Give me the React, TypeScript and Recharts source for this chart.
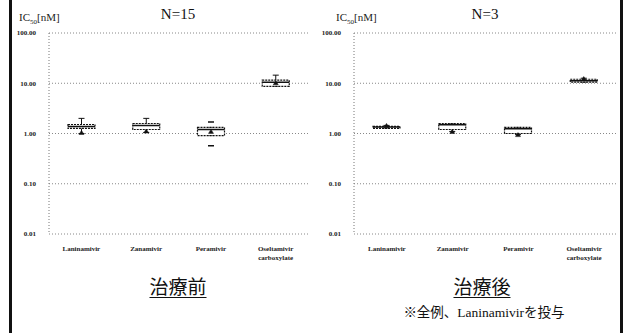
import React from "react";
import { ComposedChart, Bar, XAxis, YAxis, CartesianGrid } from "recharts";

const categories = ["Laninamivir", "Zanamivir", "Peramivir", "Oseltamivir carboxylate"];
const yTicks = [0.01, 0.1, 1, 10, 100];

// 治療前 (N=15)
const beforeMin = [1.0, 1.05, 0.91, 8.7];
const beforeQ1 = [1.26, 1.2, 0.91, 8.7];
const beforeMedian = [1.38, 1.45, 1.2, 10.5];
const beforeQ3 = [1.51, 1.58, 1.32, 11.5];
const beforeMax = [2.0, 2.0, 1.32, 14.5];
const beforeMean = [1.05, 1.12, 1.1, 10.2];
const beforeOutliers = [[], [], [1.7, 0.57], []];

// 治療後 (N=3)
const afterMin = [1.26, 1.1, 0.95, 10.5];
const afterQ1 = [1.28, 1.2, 1.0, 10.5];
const afterMedian = [1.35, 1.5, 1.25, 11.2];
const afterQ3 = [1.38, 1.58, 1.32, 12.0];
const afterMax = [1.45, 1.58, 1.32, 12.6];
const afterMean = [1.45, 1.1, 0.95, 12.4];
const afterOutliers = [[], [], [], []];

const build = (
  min: number[], q1: number[], med: number[], q3: number[], max: number[],
  mean: number[], outliers: number[][]
) =>
  categories.map((name, i) => ({
    name, min: min[i], q1: q1[i], median: med[i], q3: q3[i], max: max[i],
    mean: mean[i], outliers: outliers[i],
  }));

const beforeData = build(beforeMin, beforeQ1, beforeMedian, beforeQ3, beforeMax, beforeMean, beforeOutliers);
const afterData = build(afterMin, afterQ1, afterMedian, afterQ3, afterMax, afterMean, afterOutliers);

const BoxShape = (props: any) => {
  const { x, y, width, height, payload } = props;
  if (payload == null) return null;
  const lo = Math.log10(payload.min);
  const hi = Math.log10(payload.max);
  // y is the pixel of max, y + height the pixel of min (log scale is linear in log10)
  const py = (v: number) => y + (height * (hi - Math.log10(v))) / (hi - lo);
  const cx = x + width / 2;
  const top = py(payload.q3);
  const bot = py(payload.q1);
  const m = py(payload.mean);
  return (
    <g stroke="#111" fill="none">
      <line x1={cx} x2={cx} y1={py(payload.max)} y2={py(payload.min)} strokeWidth={1} />
      <line x1={cx - 3} x2={cx + 3} y1={py(payload.max)} y2={py(payload.max)} />
      <line x1={cx - 3} x2={cx + 3} y1={py(payload.min)} y2={py(payload.min)} />
      <rect x={x} y={top} width={width} height={Math.max(bot - top, 2)} fill="#fff" strokeWidth={1.2} strokeDasharray="2 1" />
      <line x1={x} x2={x + width} y1={py(payload.median)} y2={py(payload.median)} strokeWidth={1.5} />
      <path d={`M${cx - 2.5},${m + 2} L${cx + 2.5},${m + 2} L${cx},${m - 2} Z`} fill="#111" strokeWidth={0.5} />
      {payload.outliers.map((o: number, k: number) => (
        <line key={k} x1={cx - 3} x2={cx + 3} y1={py(o)} y2={py(o)} strokeWidth={1.5} />
      ))}
    </g>
  );
};

const CatTick = (props: any) => {
  const { x, y, payload } = props;
  const words = String(payload.value).split(" ");
  return (
    <text x={x} y={y + 9} textAnchor="middle" fontSize={7} fontWeight="bold" fontFamily="Liberation Serif" fill="#222">
      {words.map((w, i) => (
        <tspan key={i} x={x} dy={i === 0 ? 0 : 9}>{w}</tspan>
      ))}
    </text>
  );
};

const fmt = (v: number) => v.toFixed(2);

function Panel({ data, left, marginLeft, marginRight }: { data: any[]; left: number; marginLeft: number; marginRight: number }) {
  return (
    <div style={{ position: "absolute", left, top: 0 }}>
      <ComposedChart
        width={313}
        height={270}
        data={data}
        margin={{ top: 33, right: marginRight, bottom: 0, left: marginLeft }}
      >
        <CartesianGrid vertical={false} stroke="#888" strokeDasharray="1 2" />
        <XAxis
          dataKey="name"
          axisLine={false}
          tickLine={false}
          height={36}
          interval={0}
          tick={<CatTick />}
        />
        <YAxis
          scale="log"
          domain={[0.01, 100]}
          ticks={yTicks}
          allowDataOverflow
          width={30}
          tickFormatter={fmt}
          tickLine={false}
          tickMargin={7}
          axisLine={{ stroke: "#777", strokeDasharray: "1 2" }}
          tick={{ fontSize: 7, fontWeight: "bold", fontFamily: "Liberation Serif", fill: "#222" }}
        />
        <Bar
          dataKey={(d: any) => [d.min, d.max]}
          barSize={27}
          shape={<BoxShape />}
          isAnimationActive={false}
        />
      </ComposedChart>
    </div>
  );
}

const serif = "'Liberation Serif', 'Noto Sans CJK JP', serif";

export default function App() {
  return (
    <div style={{ position: "relative", width: 626, height: 333, background: "#fff", overflow: "hidden", fontFamily: serif }}>
      <style>{"body{margin:0}"}</style>
      <div style={{ position: "absolute", left: 9, top: 0, width: 3, height: 333, background: "#111" }} />
      <div style={{ position: "absolute", left: 620, top: 0, width: 3, height: 333, background: "#111" }} />

      <Panel data={beforeData} left={0} marginLeft={19} marginRight={5} />
      <Panel data={afterData} left={313} marginLeft={11} marginRight={9} />

      <div style={{ position: "absolute", left: 19, top: 11, fontSize: 11, color: "#222" }}>
        IC<sub style={{ fontSize: 7 }}>50</sub>[nM]
      </div>
      <div style={{ position: "absolute", left: 336, top: 11, fontSize: 11, color: "#222" }}>
        IC<sub style={{ fontSize: 7 }}>50</sub>[nM]
      </div>
      <div style={{ position: "absolute", left: 128, width: 100, textAlign: "center", top: 6, fontSize: 15, color: "#111" }}>N=15</div>
      <div style={{ position: "absolute", left: 435, width: 100, textAlign: "center", top: 6, fontSize: 15, color: "#111" }}>N=3</div>

      <div style={{ position: "absolute", left: 128, width: 100, textAlign: "center", top: 274, fontSize: 19, fontFamily: "'Noto Sans CJK JP'", textDecoration: "underline", textUnderlineOffset: 3, color: "#111", lineHeight: "24px" }}>治療前</div>
      <div style={{ position: "absolute", left: 432, width: 100, textAlign: "center", top: 274, fontSize: 19, fontFamily: "'Noto Sans CJK JP'", textDecoration: "underline", textUnderlineOffset: 3, color: "#111", lineHeight: "24px" }}>治療後</div>
      <div style={{ position: "absolute", left: 384, width: 200, textAlign: "center", top: 304, fontSize: 13.5, color: "#111", lineHeight: "18px" }}>※全例、Laninamivirを投与</div>
    </div>
  );
}
